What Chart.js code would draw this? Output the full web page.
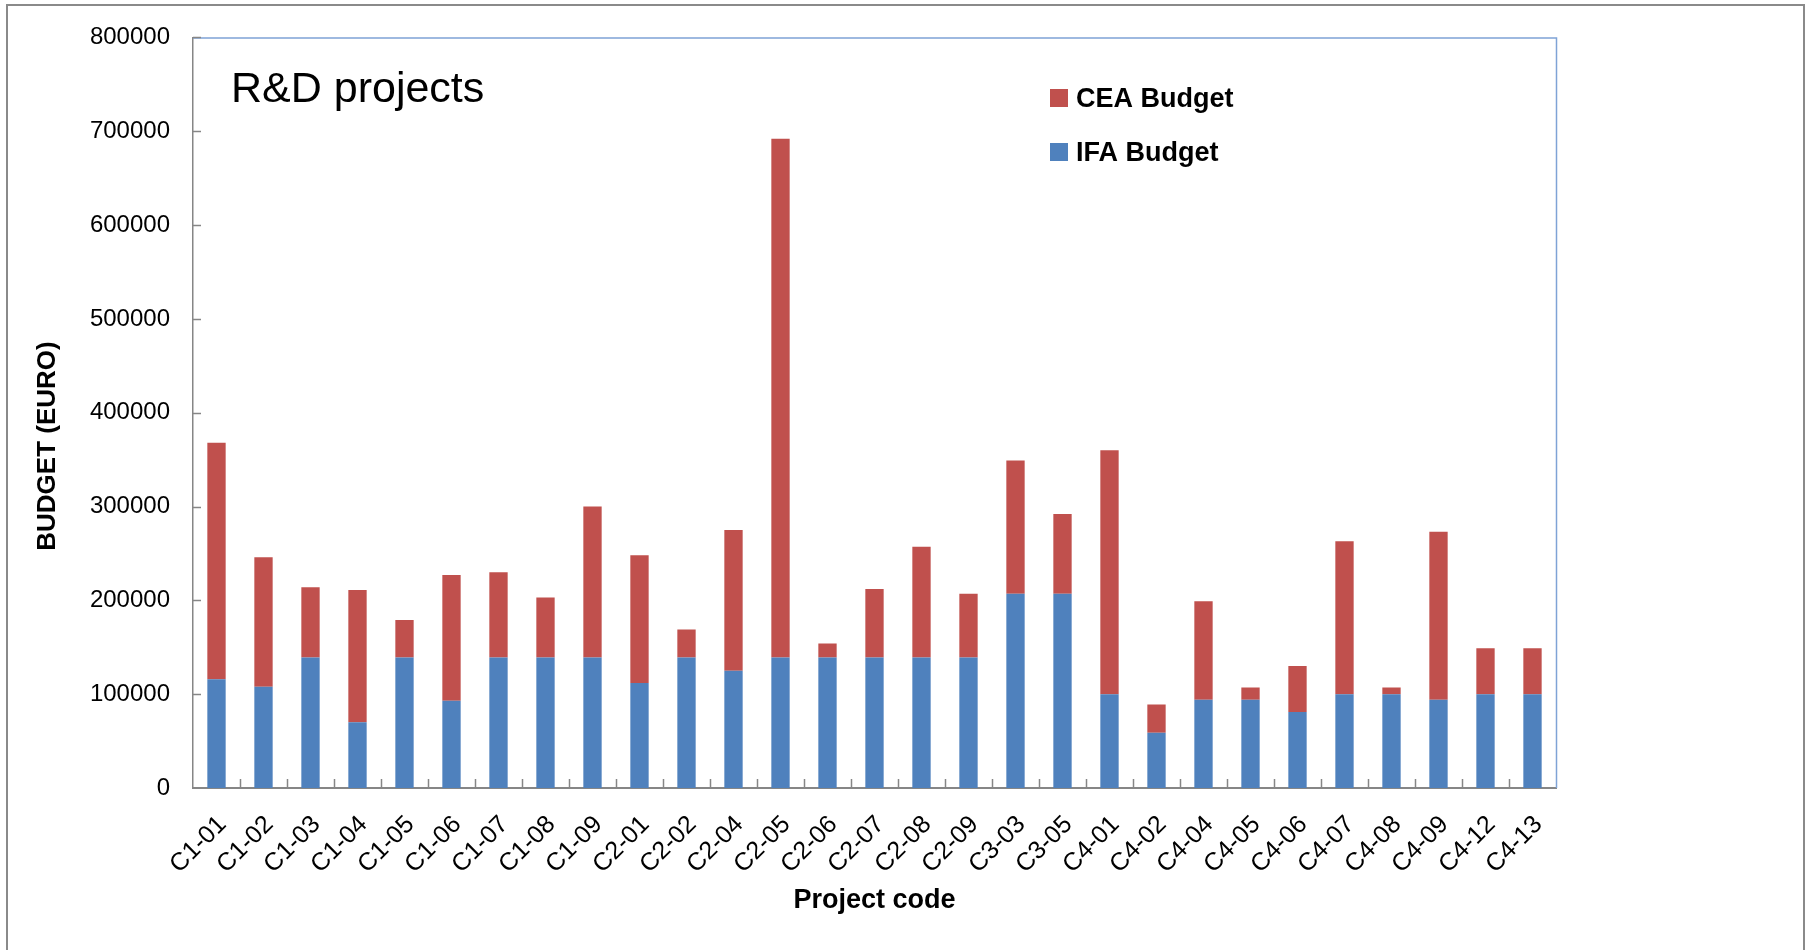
<!DOCTYPE html>
<html><head><meta charset="utf-8">
<script src="https://cdn.jsdelivr.net/npm/chart.js@4.4.1/dist/chart.umd.min.js"></script>
<style>
html,body{margin:0;padding:0;background:#fff;}
#wrap{position:relative;width:1810px;height:950px;overflow:hidden;background:#fff;}
#frame{position:absolute;left:6px;top:4px;width:1799px;height:1000px;border:2px solid #8a8a8a;box-sizing:border-box;}
canvas{position:absolute;left:0;top:0;}
</style></head><body>
<div id="wrap"><div id="frame"></div><canvas id="c" width="1810" height="950"></canvas></div>
<script>
const categories = ['C1-01','C1-02','C1-03','C1-04','C1-05','C1-06','C1-07','C1-08','C1-09','C2-01','C2-02','C2-04','C2-05','C2-06','C2-07','C2-08','C2-09','C3-03','C3-05','C4-01','C4-02','C4-04','C4-05','C4-06','C4-07','C4-08','C4-09','C4-12','C4-13'];
const ifaBudget = [116000,108000,139000,70000,139000,93000,139000,139000,139000,112000,139000,125000,139000,139000,139000,139000,139000,207000,207000,100000,59000,94000,94000,81000,100000,100000,94000,100000,100000];
const ceaBudget = [252000,138000,75000,141000,40000,134000,91000,64000,161000,136000,30000,150000,553000,15000,73000,118000,68000,142000,85000,260000,30000,105000,13000,49000,163000,7000,179000,49000,49000];
const yMin = 0, yMax = 800000, yStep = 100000;
const chartTitle = 'R&D projects';
const xTitle = 'Project code';
const yTitle = 'BUDGET (EURO)';
const seriesNames = ['IFA Budget','CEA Budget'];
const seriesColors = ['#4F81BD','#C0504D'];

const FONT = '"Liberation Sans", Arial, sans-serif';

const deco = {
  id: 'deco',
  afterDraw(chart) {
    const {ctx, chartArea: a, scales: {x, y}} = chart;
    ctx.save();
    // plot area top/right border
    ctx.strokeStyle = '#7FA3D6'; ctx.lineWidth = 1.5;
    ctx.beginPath();
    ctx.moveTo(a.left, a.top + 0.5); ctx.lineTo(a.right + 0.5, a.top + 0.5); ctx.lineTo(a.right + 0.5, a.bottom);
    ctx.stroke();
    // inner tick marks
    ctx.strokeStyle = '#868686'; ctx.lineWidth = 1.5;
    ctx.beginPath();
    y.ticks.forEach(t => {
      const py = Math.round(y.getPixelForValue(t.value)) + 0.5;
      if (t.value === yMin) return;
      ctx.moveTo(a.left, py); ctx.lineTo(a.left + 8, py);
    });
    for (let i = 0; i < categories.length - 1; i++) {
      const px = Math.round((x.getPixelForValue(i) + x.getPixelForValue(i + 1)) / 2) + 0.5;
      ctx.moveTo(px, a.bottom); ctx.lineTo(px, a.bottom - 9);
    }
    ctx.stroke();
    // chart title inside plot
    ctx.fillStyle = '#000';
    ctx.textAlign = 'left'; ctx.textBaseline = 'alphabetic';
    ctx.font = '43px ' + FONT;
    ctx.fillText(chartTitle, 231, 102);
    // legend (CEA first)
    ctx.font = 'bold 27px ' + FONT;
    const leg = [[1, 89, 107], [0, 143, 161]];
    leg.forEach(([idx, sy, base]) => {
      ctx.fillStyle = seriesColors[idx];
      ctx.fillRect(1050, sy, 18, 18);
      ctx.fillStyle = '#000';
      ctx.fillText(seriesNames[idx], 1076, base);
    });
    // x axis title
    ctx.textAlign = 'center';
    ctx.fillText(xTitle, (a.left + a.right) / 2, 908);
    // y axis title
    ctx.translate(48, 446);
    ctx.rotate(-Math.PI / 2);
    ctx.font = 'bold 26px ' + FONT;
    ctx.textBaseline = 'middle';
    ctx.fillText(yTitle, 0, 0);
    ctx.restore();
  }
};

new Chart(document.getElementById('c'), {
  type: 'bar',
  data: {
    labels: categories,
    datasets: [
      {label: seriesNames[0], data: ifaBudget, backgroundColor: seriesColors[0], borderWidth: 0},
      {label: seriesNames[1], data: ceaBudget, backgroundColor: seriesColors[1], borderWidth: 0}
    ]
  },
  options: {
    responsive: false,
    animation: false,
    layout: {padding: {left: 0, top: 36, right: 254, bottom: 0}},
    datasets: {bar: {categoryPercentage: 1, barPercentage: 0.39}},
    plugins: {legend: {display: false}, tooltip: {enabled: false}, title: {display: false}},
    scales: {
      x: {
        stacked: true,
        grid: {display: false, drawTicks: false},
        border: {display: true, color: '#868686', width: 2},
        ticks: {font: {family: FONT, size: 25}, color: '#000', minRotation: 45, maxRotation: 45, autoSkip: false, padding: 22, labelOffset: 6},
        afterFit: s => { s.height = 162; }
      },
      y: {
        stacked: true, min: yMin, max: yMax,
        grid: {display: false, drawTicks: false},
        border: {display: true, color: '#868686', width: 1.5},
        ticks: {stepSize: yStep, callback: v => String(v), font: {family: FONT, size: 24}, color: '#000', padding: 23},
        afterFit: s => { s.width = 193; }
      }
    }
  },
  plugins: [deco]
});
</script>
</body></html>
